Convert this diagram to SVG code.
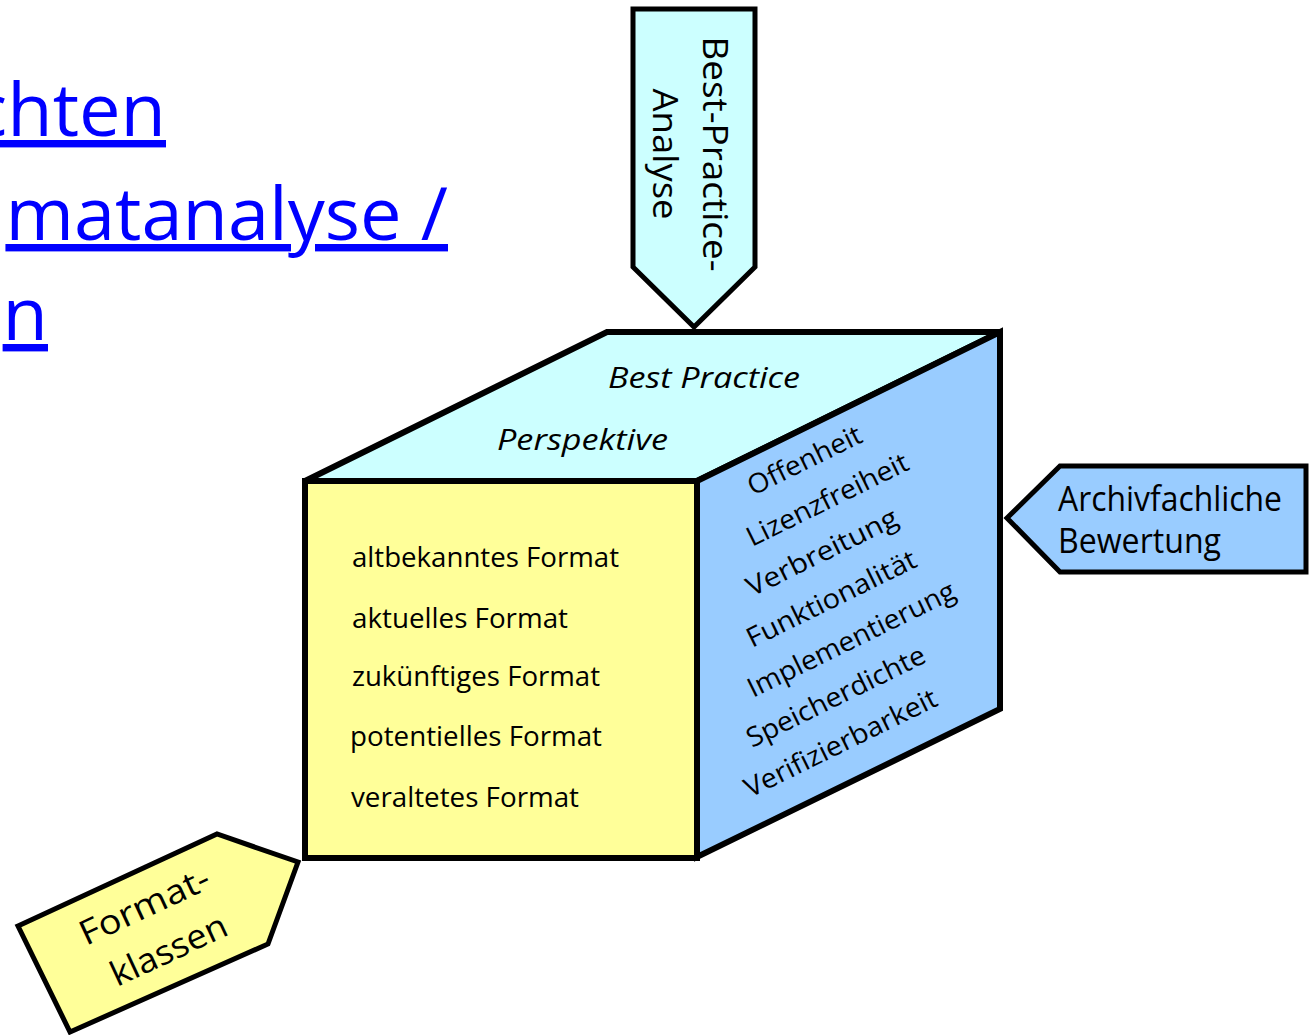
<svg xmlns="http://www.w3.org/2000/svg" width="1309" height="1035" viewBox="0 0 1309 1035">
<style>
  text { font-family: "Open Sans", "Liberation Sans", sans-serif; fill: #000; }
  .hdr { font-size: 74px; fill: #0000FF; text-decoration: underline; }
  .face { stroke: #000; stroke-width: 6; stroke-linejoin: miter; }
  .arrow { stroke: #000; stroke-width: 5; stroke-linejoin: miter; }
  .yel { fill: #FFFF99; }
  .cyan { fill: #CCFFFF; }
  .blue { fill: #99CCFF; }
  .fr { font-size: 27px; }
  .it { font-size: 30px; font-style: italic; }
  .rt { font-size: 27px; }
  .lbl { font-size: 34px; }
</style>
<rect x="0" y="0" width="1309" height="1035" fill="#FFFFFF"/>

<g id="header">
  <text class="hdr" x="166" y="136" text-anchor="end">chten</text>
  <text class="hdr" x="448" y="240" text-anchor="end">matanalyse /</text>
  <text class="hdr" x="48" y="340" text-anchor="end">n</text>
</g>

<g id="connectors">
  <g id="arrow-top">
    <polygon class="arrow cyan" points="633,9 755,9 755,267 694,327 633,267"/>
    <text class="lbl" transform="translate(703,154) rotate(90)" text-anchor="middle" textLength="235" lengthAdjust="spacingAndGlyphs">Best-Practice-</text>
    <text class="lbl" transform="translate(653,154) rotate(90)" text-anchor="middle" textLength="131" lengthAdjust="spacingAndGlyphs">Analyse</text>
  </g>
  <g id="arrow-right">
    <polygon class="arrow blue" points="1007,518 1060,466 1306,466 1306,572 1060,572"/>
    <text class="lbl" x="1058" y="511" textLength="224" lengthAdjust="spacingAndGlyphs">Archivfachliche</text>
    <text class="lbl" x="1058" y="553" textLength="163" lengthAdjust="spacingAndGlyphs">Bewertung</text>
  </g>
  <g id="arrow-bottom-left">
    <polygon class="arrow yel" points="18,926 217,834 298,862 268,944 70,1032"/>
    <text class="lbl" transform="translate(86,946) rotate(-25)" textLength="140" lengthAdjust="spacingAndGlyphs">Format-</text>
    <text class="lbl" transform="translate(117,987) rotate(-25)" textLength="125" lengthAdjust="spacingAndGlyphs">klassen</text>
  </g>
</g>

<g id="cube">
  <g id="top-face">
    <polygon class="face cyan" points="305,481 607,332 1000,332 697,481"/>
    <text class="it" x="608" y="388" textLength="192" lengthAdjust="spacingAndGlyphs">Best Practice</text>
    <text class="it" x="497" y="450" textLength="171" lengthAdjust="spacingAndGlyphs">Perspektive</text>
  </g>
  <g id="right-face">
    <polygon class="face blue" points="697,481 1000,332 1000,709 697,857"/>
    <text class="rt" transform="translate(753,496) rotate(-26.2)" textLength="124" lengthAdjust="spacingAndGlyphs">Offenheit</text>
    <text class="rt" transform="translate(752,547) rotate(-26.2)" textLength="177" lengthAdjust="spacingAndGlyphs">Lizenzfreiheit</text>
    <text class="rt" transform="translate(752,597) rotate(-26.2)" textLength="165" lengthAdjust="spacingAndGlyphs">Verbreitung</text>
    <text class="rt" transform="translate(752,648) rotate(-26.2)" textLength="186" lengthAdjust="spacingAndGlyphs">Funktionalität</text>
    <text class="rt" transform="translate(753,698) rotate(-26.2)" textLength="228" lengthAdjust="spacingAndGlyphs">Implementierung</text>
    <text class="rt" transform="translate(752,748) rotate(-26.2)" textLength="196" lengthAdjust="spacingAndGlyphs">Speicherdichte</text>
    <text class="rt" transform="translate(750,798) rotate(-26.2)" textLength="211" lengthAdjust="spacingAndGlyphs">Verifizierbarkeit</text>
  </g>
  <g id="front-face">
    <rect class="face yel" x="305" y="481" width="392" height="377"/>
    <text class="fr" x="352" y="567" textLength="267" lengthAdjust="spacingAndGlyphs">altbekanntes Format</text>
    <text class="fr" x="352" y="628" textLength="216" lengthAdjust="spacingAndGlyphs">aktuelles Format</text>
    <text class="fr" x="352" y="686" textLength="248" lengthAdjust="spacingAndGlyphs">zukünftiges Format</text>
    <text class="fr" x="350" y="746" textLength="252" lengthAdjust="spacingAndGlyphs">potentielles Format</text>
    <text class="fr" x="351" y="807" textLength="228" lengthAdjust="spacingAndGlyphs">veraltetes Format</text>
  </g>
</g>
</svg>
